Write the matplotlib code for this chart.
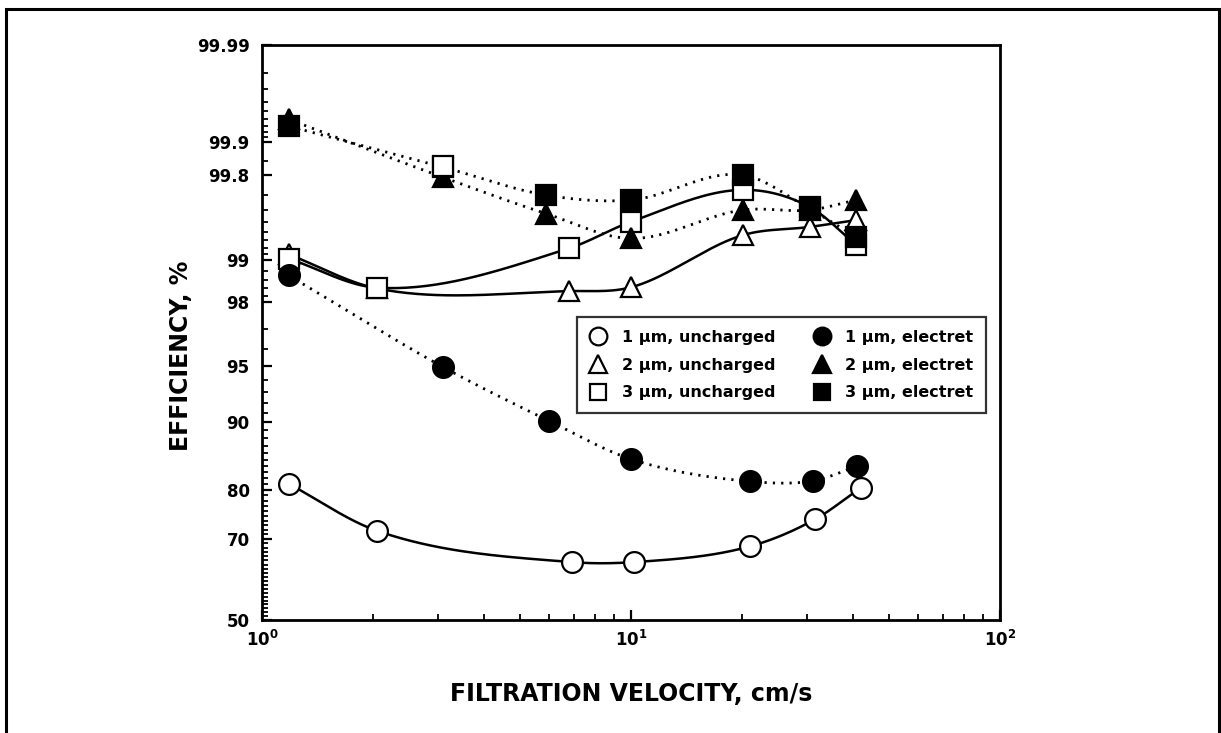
from statistics import NormalDist

import numpy as np
import matplotlib
matplotlib.use("Agg")
import matplotlib.pyplot as plt
from matplotlib.ticker import FixedLocator, FixedFormatter, NullFormatter
from matplotlib.patches import Rectangle

plt.rcParams['font.family'] = ['DejaVu Sans']
plt.rcParams['font.weight'] = 'bold'
plt.rcParams['mathtext.fontset'] = 'custom'
plt.rcParams['mathtext.rm'] = 'DejaVu Sans:bold'
plt.rcParams['mathtext.bf'] = 'DejaVu Sans:bold'

# filtration velocity, cm/s
v_1um_unch = [1.18, 2.05, 6.9, 10.2, 21.0, 31.6, 42.0]
v_unch = [1.18, 2.05, 6.8, 10.0, 20.1, 30.6, 40.7]
v_1um_elec = [1.18, 3.1, 6.0, 10.0, 21.0, 31.2, 41.0]
v_elec = [1.18, 3.1, 5.9, 10.0, 20.1, 30.6, 40.7]

# collection efficiency, %
eff_1um_unch = [81.1, 71.8, 64.6, 64.6, 68.3, 74.3, 80.4]
eff_2um_unch = [99.10, 98.40, 98.33, 98.43, 99.36, 99.45, 99.515]
eff_3um_unch = [99.03, 98.42, 99.19, 99.50, 99.73, 99.62, 99.24]

eff_1um_elec = [98.71, 94.9, 90.1, 85.1, 81.5, 81.6, 84.0]
eff_2um_elec = [99.94, 99.79, 99.57, 99.32, 99.60, 99.60, 99.67]
eff_3um_elec = [99.93, 99.83, 99.70, 99.67, 99.80, 99.605, 99.34]

# single uncharged 3 um reading at 3.1 cm/s
v_3um_extra = [3.1]
eff_3um_extra = [99.835]

y_major = [50, 70, 80, 90, 95, 98, 99, 99.8, 99.9, 99.99]
y_labels = ['50', '70', '80', '90', '95', '98', '99', '99.8', '99.9', '99.99']

_nd = NormalDist()
_inv = np.vectorize(_nd.inv_cdf, otypes=[float])
_cdf = np.vectorize(_nd.cdf, otypes=[float])


def probit(p):
    p = np.clip(np.asarray(p, dtype=float) / 100.0, 1e-9, 1 - 1e-9)
    return _inv(p)


def inv_probit(z):
    return _cdf(np.asarray(z, dtype=float)) * 100.0


def smooth(v, eff, n=40):
    # cubic Hermite through the points in log(v) / probit(eff) space
    x = np.log10(v)
    y = probit(eff)
    dx = np.diff(x)
    s = np.diff(y) / dx
    m = np.empty_like(y)
    m[0], m[-1] = s[0], s[-1]
    m[1:-1] = (s[:-1] + s[1:]) / 2
    xs, ys = [], []
    t = np.linspace(0, 1, n)
    for i in range(len(x) - 1):
        h00 = 2 * t**3 - 3 * t**2 + 1
        h10 = t**3 - 2 * t**2 + t
        h01 = -2 * t**3 + 3 * t**2
        h11 = t**3 - t**2
        xs.append(x[i] + t * dx[i])
        ys.append(h00 * y[i] + h10 * dx[i] * m[i] + h01 * y[i + 1] + h11 * dx[i] * m[i + 1])
    return 10 ** np.concatenate(xs), inv_probit(np.concatenate(ys))


fig = plt.figure(figsize=(12.21, 7.33), dpi=100)
ax = fig.add_axes([262 / 1221, 1 - 620 / 733, 738 / 1221, 575 / 733])
ax.set_xscale('log')
ax.set_yscale('function', functions=(probit, inv_probit))

solid = dict(color='black', lw=1.8, ls='-', zorder=2)
dotted = dict(color='black', lw=2.0, ls=(0, (0.8, 2.2)), zorder=2)

series = [
    (v_1um_unch, eff_1um_unch, solid, 'o', 'white', 15, '1 µm, uncharged'),
    (v_unch, eff_2um_unch, solid, '^', 'white', 15, '2 µm, uncharged'),
    (v_unch, eff_3um_unch, solid, 's', 'white', 14, '3 µm, uncharged'),
    (v_1um_elec, eff_1um_elec, dotted, 'o', 'black', 15, '1 µm, electret'),
    (v_elec, eff_2um_elec, dotted, '^', 'black', 15, '2 µm, electret'),
    (v_elec, eff_3um_elec, dotted, 's', 'black', 14, '3 µm, electret'),
]

handles = []
for v, eff, style, mk, face, ms, label in series:
    cx, cy = smooth(v, eff)
    ax.plot(cx, cy, **style)
    h, = ax.plot(v, eff, ls='none', marker=mk, ms=ms, mfc=face, mec='black',
                 mew=1.6, zorder=3, label=label)
    handles.append(h)

ax.plot(v_3um_extra, eff_3um_extra, ls='none', marker='s', ms=14, mfc='white',
        mec='black', mew=1.6, zorder=4)

ax.set_xlim(1, 100)
ax.set_ylim(50, 99.99)

ax.yaxis.set_major_locator(FixedLocator(y_major))
ax.yaxis.set_major_formatter(FixedFormatter(y_labels))
y_minor = (list(range(51, 70)) + list(range(71, 80)) + list(range(81, 90))
           + [91, 92, 93, 94, 96, 97, 98.2, 98.4, 98.6, 98.8]
           + [99.1, 99.2, 99.3, 99.4, 99.5, 99.6, 99.7, 99.85]
           + [99.91, 99.92, 99.93, 99.94, 99.95, 99.96, 99.97, 99.98])
ax.yaxis.set_minor_locator(FixedLocator(y_minor))
ax.yaxis.set_minor_formatter(NullFormatter())

ax.xaxis.set_major_locator(FixedLocator([1, 10, 100]))
ax.xaxis.set_major_formatter(FixedFormatter([r'$10^{0}$', r'$10^{1}$', r'$10^{2}$']))
ax.xaxis.set_minor_locator(FixedLocator([2, 3, 4, 5, 6, 7, 8, 9, 20, 30, 40, 50, 60, 70, 80, 90]))
ax.xaxis.set_minor_formatter(NullFormatter())

ax.tick_params(which='both', direction='in', top=False, right=False)
ax.tick_params(which='major', length=7, width=1.6, labelsize=12)
ax.tick_params(which='minor', length=4, width=1.3)
ax.tick_params(axis='y', pad=9)
ax.tick_params(axis='x', pad=7)
for sp in ax.spines.values():
    sp.set_linewidth(2.0)

ax.set_xlabel('FILTRATION VELOCITY, cm/s', fontsize=17, fontweight='bold', labelpad=23)
ax.set_ylabel('EFFICIENCY, %', fontsize=17, fontweight='bold')
ax.yaxis.set_label_coords(-0.093, 0.46)

leg = ax.legend(handles=handles, ncol=2, loc='upper left',
                bbox_to_anchor=(307 / 738, 311 / 575), frameon=True, fancybox=False,
                edgecolor='black', fontsize=11.5, handlelength=1.0, handletextpad=1.0,
                columnspacing=2.4, labelspacing=0.8, borderpad=0.8, markerscale=0.85)
leg.get_frame().set_linewidth(1.6)

# page frame around the figure
fig.add_artist(Rectangle((6 / 1221, -0.1), 1213 / 1221, 0.1 + 1 - 9 / 733,
                         transform=fig.transFigure, fill=False, lw=2.2,
                         edgecolor='black', clip_on=False))

fig.savefig('out.png', dpi=100)
